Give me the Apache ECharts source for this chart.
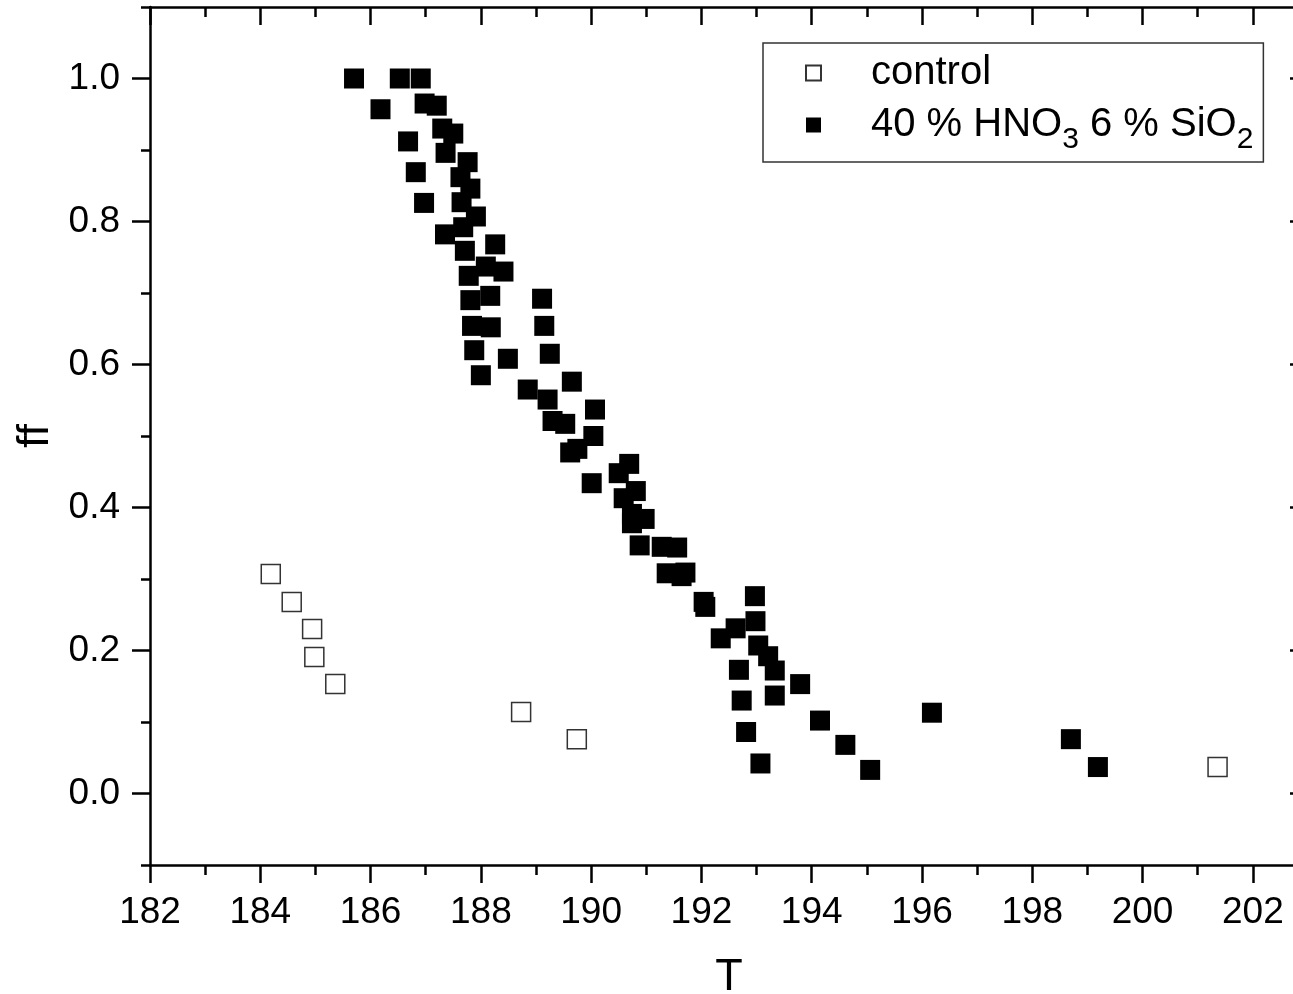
<!DOCTYPE html>
<html>
<head>
<meta charset="utf-8">
<script src="https://cdn.jsdelivr.net/npm/echarts@6/dist/echarts.min.js"></script>
<style>
html, body { margin: 0; padding: 0; background: #fff; }
#main { width: 1293px; height: 994px; }
</style>
</head>
<body>
<div id="main"></div>
<script>
// control (open squares)
var controlT  = [184.19, 184.57, 184.94, 184.98, 185.36, 188.73, 189.74, 201.36];
var controlFF = [0.307, 0.268, 0.230, 0.191, 0.153, 0.114, 0.076, 0.037];

// 40 % HNO3 6 % SiO2 (filled squares)
var acidT = [185.70, 186.53, 186.91, 186.18, 186.98, 187.20, 186.68, 187.30, 187.50, 187.36,
             186.82, 187.76, 187.63, 187.81, 186.97, 187.65, 187.91, 187.68, 187.35, 187.71,
             188.26, 188.09, 188.41, 187.78, 188.17, 187.81, 189.11, 187.84, 188.18, 189.15,
             187.88, 188.49, 189.25, 188.00, 189.65, 188.85, 189.21, 190.07, 189.30, 189.53,
             190.04, 189.75, 189.62, 190.01, 190.69, 190.50, 190.81, 190.59, 190.74, 190.97,
             190.74, 190.88, 191.28, 191.56, 191.37, 191.71, 191.64, 192.04, 192.07, 192.97,
             192.98, 192.62, 192.35, 193.03, 193.21, 193.33, 192.68, 193.79, 193.33, 192.73,
             194.15, 192.81, 194.61, 193.07, 195.06, 196.18, 198.70, 199.19];
var acidFF = [1.000, 1.000, 1.000, 0.957, 0.965, 0.962, 0.912, 0.930, 0.923, 0.896,
              0.869, 0.883, 0.862, 0.846, 0.826, 0.827, 0.807, 0.792, 0.782, 0.759,
              0.768, 0.737, 0.730, 0.724, 0.696, 0.690, 0.692, 0.654, 0.652, 0.654,
              0.620, 0.608, 0.615, 0.585, 0.576, 0.565, 0.551, 0.537, 0.521, 0.517,
              0.500, 0.482, 0.477, 0.434, 0.461, 0.448, 0.423, 0.413, 0.391, 0.384,
              0.378, 0.347, 0.345, 0.344, 0.308, 0.309, 0.304, 0.268, 0.261, 0.276,
              0.241, 0.231, 0.217, 0.207, 0.192, 0.172, 0.173, 0.153, 0.137, 0.130,
              0.102, 0.086, 0.068, 0.042, 0.033, 0.113, 0.076, 0.037];

var xTicks = [182, 184, 186, 188, 190, 192, 194, 196, 198, 200, 202];
var yTicks = [0, 0.2, 0.4, 0.6, 0.8, 1.0];

var controlName = 'control';
var acidName = '40 % HNO3 6 % SiO2';

var font = '"Liberation Sans", Arial, sans-serif';
var axisLine = { show: true, onZero: false, lineStyle: { color: '#000', width: 2.5 } };
var noLine = { show: false, onZero: false };
var square = 'path://M0,0H10V10H0Z';

function pairs(xs, ys) {
  return xs.map(function (x, i) { return [x, ys[i]]; });
}

// x axes: minor ticks + major ticks/labels, bottom and top (top ticks point inward)
function xAxis(pos, major, inside) {
  var a = {
    type: 'value', position: pos, min: 182, max: 203, interval: 1,
    axisLine: major ? noLine : axisLine,
    splitLine: { show: false },
    axisTick: {
      show: true, inside: inside, length: major ? 18 : 10,
      lineStyle: { color: '#000', width: 2.5 }
    },
    axisLabel: { show: false }
  };
  if (major) {
    a.axisTick.customValues = xTicks;
    if (pos === 'bottom') {
      a.axisLabel = {
        show: true, customValues: xTicks, margin: 29,
        fontSize: 37, fontFamily: font, color: '#000'
      };
      a.name = 'T';
      a.nameLocation = 'middle';
      a.nameGap = 90;
      a.nameTextStyle = { fontSize: 45, fontFamily: font, color: '#000' };
    }
  }
  return a;
}

function yAxis(pos, major, inside) {
  var a = {
    type: 'value', position: pos, min: -0.1, max: 1.1, interval: 0.1,
    axisLine: major ? noLine : axisLine,
    splitLine: { show: false },
    axisTick: {
      show: true, inside: inside, length: major ? 18 : 9,
      lineStyle: { color: '#000', width: 2.5 }
    },
    axisLabel: { show: false }
  };
  if (major) {
    a.axisTick.customValues = yTicks;
    if (pos === 'left') {
      a.axisLabel = {
        show: true, customValues: yTicks, margin: 30,
        fontSize: 37, fontFamily: font, color: '#000',
        formatter: function (v) { return v.toFixed(1); }
      };
      a.name = 'ff';
      a.nameLocation = 'middle';
      a.nameRotate = 90;
      a.nameGap = 88;
      a.nameTextStyle = { fontSize: 45, fontFamily: font, color: '#000' };
    }
  }
  return a;
}

var chart = echarts.init(document.getElementById('main'));

chart.setOption({
  animation: false,
  backgroundColor: '#fff',
  grid: { left: 150, top: 7, width: 1158, bottom: 129, outerBoundsMode: 'none' },
  xAxis: [
    xAxis('bottom', false, false),
    xAxis('bottom', true, false),
    xAxis('top', false, true),
    xAxis('top', true, true)
  ],
  yAxis: [
    yAxis('left', false, false),
    yAxis('left', true, false),
    yAxis('right', false, true),
    yAxis('right', true, true)
  ],
  legend: {
    orient: 'vertical',
    left: 763, top: 43,
    padding: [8, 10, 7, 42],
    itemWidth: 15, itemHeight: 15, itemGap: 0,
    borderColor: '#333', borderWidth: 1.5,
    textStyle: {
      fontSize: 40, lineHeight: 44, fontFamily: font, color: '#000',
      padding: [0, 0, 0, 45],
      rich: {
        sub: { fontSize: 30, lineHeight: 30, fontFamily: font, color: '#000', padding: [30, 0, 0, 0] }
      }
    },
    formatter: function (name) {
      return name === acidName ? '40 % HNO{sub|3} 6 % SiO{sub|2}' : name;
    },
    data: [
      { name: controlName, icon: square },
      { name: acidName, icon: square }
    ]
  },
  series: [
    {
      name: controlName, type: 'scatter',
      symbol: 'rect', symbolSize: 19,
      itemStyle: { color: '#fff', borderColor: '#333', borderWidth: 1.5, opacity: 1 },
      data: pairs(controlT, controlFF)
    },
    {
      name: acidName, type: 'scatter',
      symbol: 'rect', symbolSize: 20,
      itemStyle: { color: '#000', opacity: 1 },
      data: pairs(acidT, acidFF)
    }
  ]
});
</script>
</body>
</html>
